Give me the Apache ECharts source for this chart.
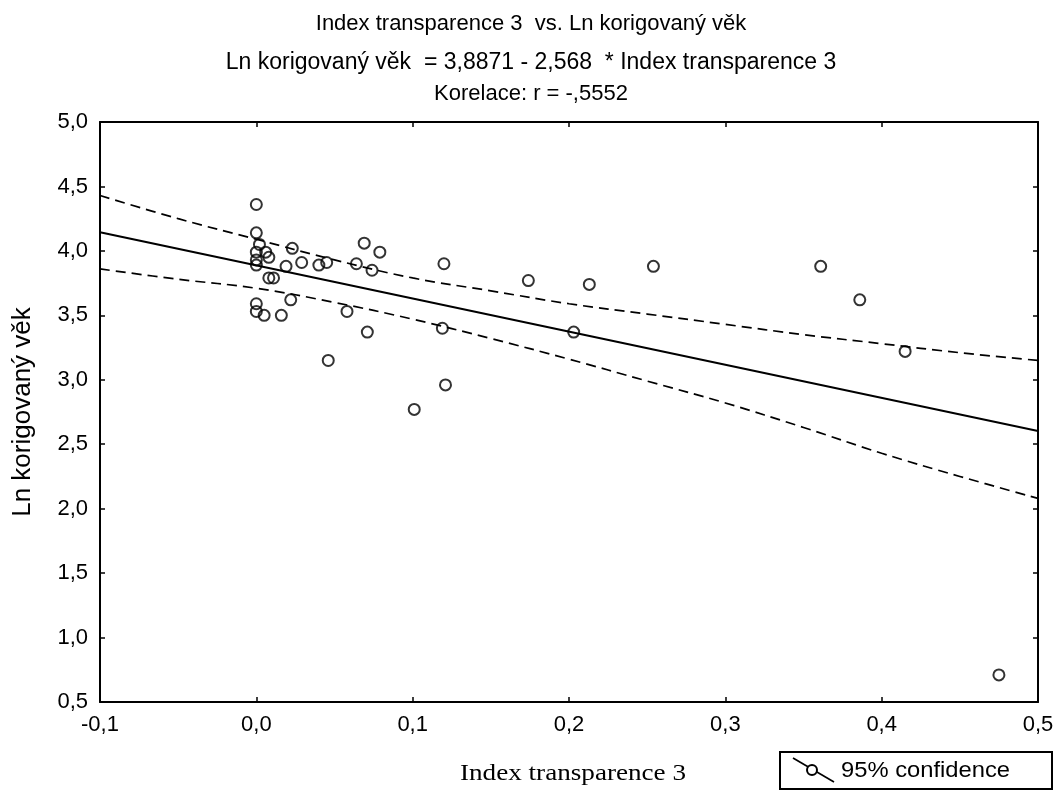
<!DOCTYPE html>
<html>
<head>
<meta charset="utf-8">
<script src="https://cdn.jsdelivr.net/npm/echarts@6/dist/echarts.min.js"></script>
<style>
  html, body { margin: 0; padding: 0; background: #fff; }
  #chart { width: 1062px; height: 791px; }
</style>
</head>
<body>
<div id="chart"></div>
<script>
// Observations: Index transparence 3 (x) and Ln korigovaný věk (y)
const indexTransparence = [
  0.000, 0.000, 0.002, 0.000, 0.006, 0.008, 0.000, 0.000, 0.023, 0.029,
  0.019, 0.040, 0.045, 0.064, 0.069, 0.079, 0.074, 0.120, 0.008, 0.011,
  0.000, 0.000, 0.005, 0.016, 0.022, 0.058, 0.071, 0.119, 0.046, 0.121,
  0.101, 0.174, 0.213, 0.254, 0.361, 0.386, 0.415, 0.203, 0.475
];
const lnKorigovanyVek = [
  4.36, 4.14, 4.05, 3.99, 3.99, 3.95, 3.93, 3.89, 4.02, 3.91,
  3.88, 3.89, 3.91, 3.90, 4.06, 3.99, 3.85, 3.90, 3.79, 3.79,
  3.59, 3.53, 3.50, 3.50, 3.62, 3.53, 3.37, 3.40, 3.15, 2.96,
  2.77, 3.77, 3.74, 3.88, 3.88, 3.62, 3.22, 3.37, 0.71
];

// 95% confidence band of the fitted mean
const bandX     = [-0.10, -0.05, 0.00, 0.05, 0.10, 0.15, 0.20, 0.25, 0.30, 0.35, 0.40, 0.45, 0.50];
const bandUpper = [ 4.43,  4.25, 4.09, 3.93, 3.79, 3.69, 3.59, 3.51, 3.43, 3.35, 3.28, 3.21, 3.15];
const bandLower = [ 3.86,  3.78, 3.71, 3.60, 3.47, 3.32, 3.16, 2.99, 2.82, 2.63, 2.43, 2.25, 2.08];

// Fitted line: Ln korigovaný věk = 3,8871 - 2,568 * Index transparence 3
const INTERCEPT = 3.8871;
const SLOPE = -2.568;
const X_RANGE = [-0.1, 0.5];
const Y_RANGE = [0.5, 5.0];

const titleLines = [
  'Index transparence 3  vs. Ln korigovaný věk',
  'Ln korigovaný věk  = 3,8871 - 2,568  * Index transparence 3',
  'Korelace: r = -,5552'
];
const xAxisTitle = 'Index transparence 3';
const yAxisTitle = 'Ln korigovaný věk';
const legendLabel = '95% confidence';

const comma = (v) => {
  if (Math.abs(v) < 1e-9) v = 0;
  return v.toFixed(1).replace('.', ',');
};

const scatterData = indexTransparence.map((x, i) => [x, lnKorigovanyVek[i]]);
const fitData = X_RANGE.map(x => [x, INTERCEPT + SLOPE * x]);
const upperData = bandX.map((x, i) => [x, bandUpper[i]]);
const lowerData = bandX.map((x, i) => [x, bandLower[i]]);

const SANS = '"Liberation Sans", Arial, sans-serif';
const SERIF = '"Liberation Serif", "Times New Roman", serif';

const frameAxisLine = { show: true, onZero: false, lineStyle: { color: '#000', width: 2 } };
const innerTick = { show: true, inside: true, length: 5, lineStyle: { color: '#000', width: 1.5 } };

const chart = echarts.init(document.getElementById('chart'), null, { renderer: 'canvas' });

chart.setOption({
  backgroundColor: '#fff',
  animation: false,
  title: titleLines.map((t, i) => ({
    text: t,
    left: 'center',
    top: [8, 46, 78][i],
    textStyle: { fontFamily: SANS, fontSize: [22, 23, 22][i], fontWeight: 'normal', color: '#000' }
  })),
  grid: { left: 100, right: 24, top: 122, bottom: 89, containLabel: false, outerBoundsMode: 'none' },
  xAxis: [
    {
      type: 'value', min: X_RANGE[0], max: X_RANGE[1], interval: 0.1,
      axisLine: frameAxisLine, axisTick: innerTick, splitLine: { show: false },
      axisLabel: { formatter: comma, fontFamily: SANS, fontSize: 22, color: '#000', margin: 12 }
    },
    {
      type: 'value', position: 'top', min: X_RANGE[0], max: X_RANGE[1], interval: 0.1,
      axisLine: frameAxisLine, axisTick: innerTick, axisLabel: { show: false }, splitLine: { show: false }
    }
  ],
  yAxis: [
    {
      type: 'value', min: Y_RANGE[0], max: Y_RANGE[1], interval: 0.5,
      axisLine: frameAxisLine, axisTick: innerTick, splitLine: { show: false },
      axisLabel: { formatter: comma, fontFamily: SANS, fontSize: 22, color: '#000', margin: 12 },
      name: yAxisTitle, nameLocation: 'middle', nameGap: 64,
      nameTextStyle: { fontFamily: SANS, fontSize: 26, color: '#000' }
    },
    {
      type: 'value', position: 'right', min: Y_RANGE[0], max: Y_RANGE[1], interval: 0.5,
      axisLine: frameAxisLine, axisTick: innerTick, axisLabel: { show: false }, splitLine: { show: false }
    }
  ],
  series: [
    {
      name: 'fit', type: 'line', data: fitData, symbol: 'none', silent: true,
      lineStyle: { color: '#000', width: 2 }, z: 3
    },
    {
      name: '95% confidence upper', type: 'line', data: upperData, symbol: 'none', smooth: 0.4, silent: true,
      lineStyle: { color: '#000', width: 1.7, type: [10, 6] }, z: 3
    },
    {
      name: '95% confidence lower', type: 'line', data: lowerData, symbol: 'none', smooth: 0.4, silent: true,
      lineStyle: { color: '#000', width: 1.7, type: [10, 6] }, z: 3
    },
    {
      name: 'observations', type: 'scatter', data: scatterData,
      symbol: 'circle', symbolSize: 11,
      itemStyle: { color: 'rgba(0,0,0,0)', borderColor: '#000', borderWidth: 2 }, z: 4
    }
  ],
  graphic: [
    {
      // x-axis title, set in a wide serif face
      type: 'text', x: 573, y: 774, scaleX: 1.18,
      style: { text: xAxisTitle, fontFamily: SERIF, fontSize: 23, fill: '#000',
               align: 'center', verticalAlign: 'middle' }
    },
    {
      // legend box
      type: 'group', x: 780, y: 752,
      children: [
        { type: 'rect', shape: { x: 0, y: 0, width: 272, height: 37 },
          style: { fill: '#fff', stroke: '#000', lineWidth: 2 } },
        { type: 'line', shape: { x1: 13, y1: 6, x2: 54, y2: 30 },
          style: { stroke: '#000', lineWidth: 1.7 } },
        { type: 'circle', shape: { cx: 32, cy: 18, r: 5 },
          style: { fill: '#fff', stroke: '#000', lineWidth: 2 } },
        { type: 'text', x: 61, y: 19, scaleX: 1.08,
          style: { text: legendLabel, fontFamily: SANS, fontSize: 22, fill: '#000',
                   align: 'left', verticalAlign: 'middle' } }
      ]
    }
  ]
});
</script>
</body>
</html>
